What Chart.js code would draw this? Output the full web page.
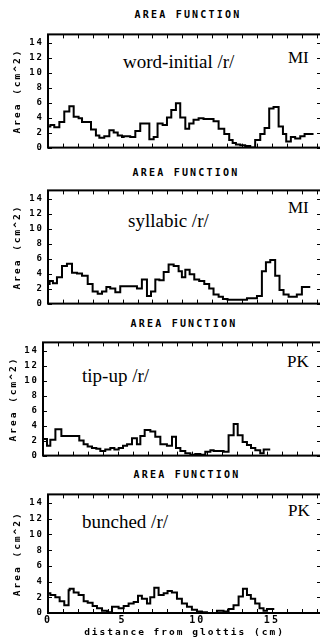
<!DOCTYPE html>
<html>
<head>
<meta charset="utf-8">
<title>Area function</title>
<script src="https://cdn.jsdelivr.net/npm/chart.js@4.4.1/dist/chart.umd.min.js"></script>
<style>
  html, body { margin: 0; padding: 0; background: #fff; }
  body { position: relative; width: 320px; height: 638px; overflow: hidden; }
  canvas { position: absolute; left: 0; }
  .title { position: absolute; width: 320px; text-align: center; font: bold 10px "DejaVu Sans Mono"; line-height: 10px; letter-spacing: 2.2px; color: #000; }
  .note { position: absolute; font: 19px "Liberation Serif"; line-height: 19px; white-space: nowrap; color: #000; }
  .who { font-size: 17px; line-height: 17px; }
</style>
</head>
<body>

<div class="title" style="left:28px; top:10px">AREA FUNCTION</div>
<div class="title" style="left:26px; top:168px">AREA FUNCTION</div>
<div class="title" style="left:24px; top:319px">AREA FUNCTION</div>
<div class="title" style="left:27px; top:470px">AREA FUNCTION</div>

<div class="note" style="left:123px; top:52px">word-initial /r/</div>
<div class="note who" style="left:288px; top:49px">MI</div>
<div class="note" style="left:128px; top:211px">syllabic /r/</div>
<div class="note who" style="left:288px; top:199px">MI</div>
<div class="note" style="left:82px; top:366px">tip-up /r/</div>
<div class="note who" style="left:287px; top:353px">PK</div>
<div class="note" style="left:82px; top:512px">bunched /r/</div>
<div class="note who" style="left:288px; top:502px">PK</div>

<canvas id="p1" width="324" height="132" style="top:25px"></canvas>
<canvas id="p2" width="324" height="132" style="top:181px"></canvas>
<canvas id="p3" width="324" height="132" style="top:333px"></canvas>
<canvas id="p4" width="324" height="154" style="top:485px"></canvas>

<script>
// distance from glottis (cm) where each step starts, and area (cm^2) of that step
const wordInitialDist = [0, 0.16, 0.42, 0.76, 1.09, 1.43, 1.72, 2.05, 2.28, 2.88, 3.21, 3.44, 3.77, 4.11, 4.40, 4.67, 4.96, 5.07, 5.51, 5.85, 6.18, 6.79, 7.08, 7.34, 7.68, 7.97, 8.26, 8.57, 8.86, 9.20, 9.46, 9.75, 10.09, 10.42, 11.09, 11.43, 11.81, 12.14, 12.37, 12.59, 12.88, 13.21, 13.55, 13.88, 14.22, 14.51, 14.82, 15.11, 15.45, 15.74, 15.96, 16.27, 16.56, 16.90, 17.19, 17.52, 17.79];
const wordInitialArea = [1.1, 2.8, 3.0, 2.7, 3.4, 4.8, 5.5, 4.1, 3.9, 3.4, 2.4, 1.6, 1.3, 1.5, 2.3, 2.0, 1.6, 1.4, 1.5, 1.4, 2.2, 3.2, 1.1, 1.4, 3.2, 3.0, 4.0, 5.0, 5.9, 4.0, 2.5, 3.2, 3.7, 3.9, 3.8, 3.5, 2.5, 1.8, 1.0, 0.6, 0.4, 0.3, 0.2, 0.0, 1.0, 1.8, 2.6, 5.2, 5.4, 2.8, 1.8, 0.8, 1.4, 1.2, 1.5, 1.8, 1.8];

const syllabicDist = [0, 0.11, 0.33, 0.60, 0.94, 1.27, 1.61, 1.94, 2.28, 2.66, 2.99, 3.33, 3.62, 3.91, 4.17, 4.51, 4.84, 5.96, 6.29, 6.63, 6.90, 7.19, 7.46, 7.75, 8.08, 8.42, 8.75, 8.97, 9.20, 9.49, 9.80, 10.13, 10.47, 10.80, 11.09, 11.43, 11.72, 12.03, 12.43, 13.33, 14.00, 14.33, 14.60, 14.89, 15.22, 15.51, 15.78, 16.12, 16.67, 17.01, 17.28, 17.57];
const syllabicArea = [1.6, 2.6, 3.0, 2.7, 3.5, 5.0, 5.3, 4.1, 4.0, 3.7, 2.6, 1.6, 1.3, 1.6, 2.2, 2.0, 1.5, 2.3, 2.0, 3.2, 1.0, 1.6, 3.2, 3.1, 4.2, 5.2, 5.0, 4.3, 3.5, 4.5, 3.9, 3.2, 3.0, 2.6, 2.0, 1.2, 0.9, 0.6, 0.5, 0.5, 0.7, 1.0, 4.3, 5.5, 5.8, 3.7, 1.8, 1.2, 0.9, 1.2, 2.2, 2.2];

const tipUpDist = [0, 0.27, 0.49, 0.83, 1.23, 2.43, 2.72, 2.99, 3.28, 3.57, 3.84, 4.17, 4.51, 4.78, 5.07, 5.36, 5.63, 5.96, 6.29, 6.52, 6.81, 7.19, 7.52, 7.86, 8.30, 8.64, 8.91, 9.20, 9.53, 9.87, 10.20, 10.54, 10.87, 11.21, 11.43, 11.76, 12.10, 12.43, 12.77, 13.04, 13.37, 13.66, 13.93, 14.22, 14.55, 14.78, 14.89, 15.22];
const tipUpArea = [1.8, 2.2, 1.3, 2.1, 3.5, 2.6, 2.0, 1.5, 1.2, 1.0, 0.9, 0.6, 0.8, 1.0, 0.8, 1.0, 1.3, 1.5, 2.3, 1.5, 2.6, 3.4, 3.2, 2.5, 1.5, 1.3, 2.5, 1.0, 0.6, 0.3, 0.1, 0.2, 0.1, 0.5, 0.7, 0.6, 0.6, 0.5, 2.7, 4.2, 2.7, 1.8, 1.4, 1.0, 0.7, 0.3, 0.8, 0.8];

const bunchedDist = [0, 0.16, 0.49, 0.78, 1.09, 1.38, 1.45, 1.72, 2.05, 2.39, 2.66, 2.99, 3.28, 3.62, 3.95, 4.29, 4.73, 5.07, 5.40, 5.74, 6.03, 6.29, 6.63, 6.85, 7.12, 7.41, 7.75, 8.01, 8.30, 8.64, 8.97, 9.31, 9.64, 9.98, 10.31, 10.65, 11.32, 11.76, 12.10, 12.43, 12.77, 13.06, 13.33, 13.59, 13.88, 14.17, 14.44, 14.67, 14.89, 15.16];
const bunchedArea = [1.0, 2.5, 2.3, 2.0, 1.5, 1.0, 2.9, 3.1, 2.6, 2.3, 1.5, 1.3, 0.9, 0.6, 0.3, 0.1, 0.8, 0.6, 0.9, 1.2, 1.4, 2.2, 1.8, 1.2, 2.0, 3.2, 2.3, 2.5, 2.8, 2.6, 1.8, 1.2, 0.8, 0.4, 0.2, 0.1, 0.0, 0.3, 0.2, 0.5, 1.0, 2.1, 3.1, 2.3, 1.8, 1.2, 0.6, 0.3, 0.5, 0.5];

const xTickLabels = [0, 5, 10, 15];
const yTickStep = 2;
const yMax = 15.1;
const yTitle = 'Area (cm^2)';
const xTitle = 'distance from glottis (cm)';

const monoBold = size => ({ family: 'DejaVu Sans Mono', size: size, weight: 'bold' });

// box round the plot with small inward ticks, like the original plotter output
const framePlugin = {
    id: 'frame',
    beforeDraw(chart) {
        chart.ctx.letterSpacing = '2px';
    },
    afterDraw(chart) {
        const { ctx, chartArea: a, scales: { x, y } } = chart;
        ctx.save();
        ctx.strokeStyle = '#000';
        ctx.lineWidth = 1;
        ctx.beginPath();
        x.ticks.forEach(t => {
            const px = Math.round(x.getPixelForValue(t.value)) + 0.5;
            ctx.moveTo(px, a.bottom);
            ctx.lineTo(px, a.bottom - 4);
            ctx.moveTo(px, a.top);
            ctx.lineTo(px, a.top + 4);
        });
        y.ticks.forEach(t => {
            const py = Math.round(y.getPixelForValue(t.value)) + 0.5;
            ctx.moveTo(a.left, py);
            ctx.lineTo(a.left + 4, py);
            ctx.moveTo(a.right, py);
            ctx.lineTo(a.right - 4, py);
        });
        ctx.stroke();
        ctx.lineWidth = 2;
        ctx.strokeRect(a.left, a.top, a.right - a.left, a.bottom - a.top);
        ctx.restore();
    }
};

function makePanel(id, dist, area, plotLeft, xMax, showX, yTitlePad) {
    const ctx = document.getElementById(id).getContext('2d');
    return new Chart(ctx, {
        type: 'line',
        data: {
            datasets: [{
                data: dist.map((d, i) => ({ x: d, y: area[i] })),
                stepped: 'after',
                borderColor: '#000',
                borderWidth: 2,
                pointRadius: 0,
                fill: false
            }]
        },
        options: {
            responsive: false,
            animation: false,
            layout: { padding: { top: 2, right: 3, left: 0, bottom: 0 } },
            plugins: { legend: { display: false }, tooltip: { enabled: false } },
            scales: {
                x: {
                    type: 'linear',
                    min: 0,
                    max: xMax,
                    grid: { display: false, drawTicks: false },
                    border: { display: false },
                    ticks: {
                        display: showX,
                        stepSize: 1,
                        includeBounds: false,
                        autoSkip: false,
                        maxRotation: 0,
                        padding: 1,
                        color: '#000',
                        font: monoBold(10),
                        callback: v => xTickLabels.includes(v) ? String(v) : ''
                    },
                    title: {
                        display: showX,
                        text: xTitle,
                        color: '#000',
                        font: monoBold(9.5),
                        padding: { top: 0, bottom: 1 }
                    },
                    afterFit(s) { s.height = showX ? 26 : 3; }
                },
                y: {
                    min: 0,
                    max: yMax,
                    grid: { display: false, drawTicks: false },
                    border: { display: false },
                    ticks: {
                        stepSize: yTickStep,
                        includeBounds: false,
                        padding: 4,
                        color: '#000',
                        font: monoBold(9)
                    },
                    title: {
                        display: true,
                        text: yTitle,
                        color: '#000',
                        font: monoBold(9.5),
                        padding: { top: yTitlePad, bottom: 0 }
                    },
                    afterFit(s) { s.width = plotLeft; }
                }
            }
        },
        plugins: [framePlugin]
    });
}

makePanel('p1', wordInitialDist, wordInitialArea, 48, 18.29, false, 11.5);
makePanel('p2', syllabicDist, syllabicArea, 48, 18.29, false, 11.5);
makePanel('p3', tipUpDist, tipUpArea, 43, 18.62, false, 8);
makePanel('p4', bunchedDist, bunchedArea, 48, 18.29, true, 11.5);
</script>
</body>
</html>
